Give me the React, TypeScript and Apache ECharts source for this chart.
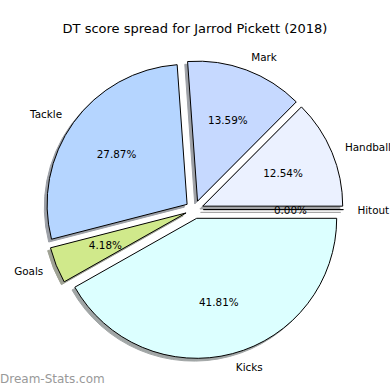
import React, { useEffect, useRef } from "react";
import * as echarts from "echarts";

const title = "DT score spread for Jarrod Pickett (2018)";
const categories = ["Hitout", "Handball", "Mark", "Tackle", "Goals", "Kicks"];
const values = [0, 36, 39, 80, 12, 120];
const colors = ["#ffffff", "#ebf1ff", "#c6d9ff", "#b5d5ff", "#d0e98b", "#dcffff"];
const watermark = "Dream-Stats.com";

const CX = 194.4;
const CY = 209.6;
const R = 140;
const OFFSET = 9;
const SHADOW = 2.8;

function shadowColor(hex: string): string {
  const n = parseInt(hex.slice(1), 16);
  const r = (n >> 16) & 255, g = (n >> 8) & 255, b = n & 255;
  const f = (c: number) => Math.round(0.5 * 255 + 0.5 * 0.3 * c);
  return `rgb(${f(r)},${f(g)},${f(b)})`;
}

export default function App() {
  const ref = useRef<HTMLDivElement>(null);
  useEffect(() => {
    if (!ref.current) return;
    const chart = echarts.init(ref.current, null, { renderer: "svg" });
    const total = values.reduce((a, b) => a + b, 0);
    const font = "DejaVu Sans";
    const base = {
      type: "pie",
      clockwise: false,
      startAngle: 0,
      selectedMode: "multiple",
      selectedOffset: OFFSET,
      avoidLabelOverlap: false,
      silent: true,
      emphasis: { disabled: true },
      animation: false,
    };
    chart.setOption({
      animation: false,
      title: {
        text: title,
        left: "center",
        top: 17,
        textStyle: { fontFamily: font, fontSize: 13, fontWeight: "normal", color: "#000" },
      },
      graphic: [
        {
          type: "text",
          left: 0,
          top: 373,
          style: { text: watermark, fontFamily: font, fontSize: 12, fontWeight: "normal", fill: "#999999" },
        },
      ],
      series: [
        {
          ...base,
          z: 1,
          center: [CX - SHADOW, CY + SHADOW],
          radius: [0, R],
          label: { show: false },
          labelLine: { show: false },
          data: categories.map((c, i) => ({
            name: c,
            value: values[i],
            selected: true,
            itemStyle: { color: shadowColor(colors[i]), borderColor: shadowColor(colors[i]), borderWidth: 1 },
          })),
        },
        {
          ...base,
          z: 2,
          center: [CX, CY],
          radius: [0, R],
          label: {
            show: true,
            position: "outside",
            fontFamily: font,
            fontSize: 10.4,
            color: "#000",
            distanceToLabelLine: 0,
            formatter: (p: any) => p.name,
          },
          labelLine: { show: false, length: 0.1 * R, length2: 0 },
          data: categories.map((c, i) => ({
            name: c,
            value: values[i],
            selected: true,
            itemStyle: { color: colors[i], borderColor: "#000", borderWidth: 1 },
          })),
        },
        {
          ...base,
          z: 3,
          center: [CX, CY],
          radius: [0, 1.2 * R],
          label: {
            show: true,
            position: "inside",
            fontFamily: font,
            fontSize: 10.4,
            color: "#000",
            formatter: (p: any) => ((p.value / total) * 100).toFixed(2) + "%",
          },
          labelLine: { show: false },
          data: categories.map((c, i) => ({
            name: c,
            value: values[i],
            selected: true,
            itemStyle: { color: "rgba(0,0,0,0)", borderWidth: 0 },
          })),
        },
      ],
    });
    return () => chart.dispose();
  }, []);
  return <div ref={ref} style={{ width: 390, height: 390, position: "absolute", left: 0, top: 0 }} />;
}
